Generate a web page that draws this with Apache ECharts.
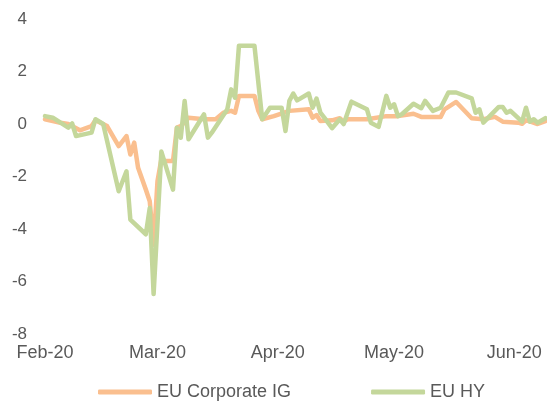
<!DOCTYPE html>
<html>
<head>
<meta charset="utf-8">
<script src="https://cdn.jsdelivr.net/npm/echarts@6/dist/echarts.min.js"></script>
<style>
    html, body { margin: 0; padding: 0; background: #fff; }
    #chart { width: 547px; height: 401px; }
</style>
</head>
<body>
<div id="chart"></div>
<script>
    // EU Corporate IG (orange)
    const igDates = ['2020-02-01', '2020-02-05', '2020-02-07', '2020-02-10', '2020-02-13', '2020-02-14', '2020-02-17',
        '2020-02-20', '2020-02-22', '2020-02-23', '2020-02-24', '2020-02-25', '2020-02-27', '2020-02-28', '2020-02-29',
        '2020-03-01', '2020-03-02', '2020-03-03', '2020-03-05', '2020-03-06', '2020-03-07', '2020-03-09', '2020-03-13',
        '2020-03-16', '2020-03-18', '2020-03-20', '2020-03-21', '2020-03-22', '2020-03-26', '2020-03-27', '2020-03-28',
        '2020-03-31', '2020-04-04', '2020-04-09', '2020-04-10', '2020-04-11', '2020-04-12', '2020-04-15', '2020-04-17',
        '2020-04-18', '2020-04-19', '2020-04-24', '2020-04-29', '2020-05-02', '2020-05-06', '2020-05-08', '2020-05-13',
        '2020-05-14', '2020-05-17', '2020-05-21', '2020-05-24', '2020-05-27', '2020-05-29', '2020-06-02', '2020-06-03',
        '2020-06-04', '2020-06-05', '2020-06-07', '2020-06-09'];
    const igValues = [0.18, 0.05, 0.0, -0.24, -0.08, 0.14, -0.08,
        -0.84, -0.46, -1.16, -0.71, -1.67, -2.5, -2.94, -4.6,
        -2.18, -1.34, -1.41, -1.41, -0.14, -0.08, 0.24, 0.18,
        0.18, 0.43, 0.5, 0.43, 1.07, 1.07, 0.5, 0.18,
        0.3, 0.5, 0.56, 0.24, 0.34, 0.11, 0.14, 0.22,
        0.09, 0.18, 0.18, 0.3, 0.3, 0.39, 0.27, 0.27,
        0.56, 0.84, 0.22, 0.18, 0.27, 0.09, 0.05, 0.01,
        0.14, 0.1, 0.0, 0.11];

    // EU HY (green)
    const hyDates = ['2020-02-01', '2020-02-03', '2020-02-07', '2020-02-08', '2020-02-09', '2020-02-13', '2020-02-14',
        '2020-02-16', '2020-02-20', '2020-02-22', '2020-02-23', '2020-02-27', '2020-02-28', '2020-02-29', '2020-03-02',
        '2020-03-05', '2020-03-06', '2020-03-07', '2020-03-08', '2020-03-09', '2020-03-13', '2020-03-14', '2020-03-15',
        '2020-03-19', '2020-03-20', '2020-03-21', '2020-03-22', '2020-03-26', '2020-03-28', '2020-03-30', '2020-04-02',
        '2020-04-03', '2020-04-04', '2020-04-05', '2020-04-06', '2020-04-09', '2020-04-10', '2020-04-11', '2020-04-12',
        '2020-04-13', '2020-04-15', '2020-04-17', '2020-04-18', '2020-04-20', '2020-04-24', '2020-04-25', '2020-04-27',
        '2020-04-29', '2020-04-30', '2020-05-01', '2020-05-02', '2020-05-03', '2020-05-06', '2020-05-08', '2020-05-09',
        '2020-05-11', '2020-05-13', '2020-05-15', '2020-05-17', '2020-05-21', '2020-05-22', '2020-05-23', '2020-05-24',
        '2020-05-28', '2020-05-29', '2020-05-30', '2020-05-31', '2020-06-03', '2020-06-04', '2020-06-05', '2020-06-06',
        '2020-06-07', '2020-06-09'];
    const hyValues = [0.3, 0.24, -0.14, 0.02, -0.46, -0.33, 0.18,
        0.0, -2.56, -1.8, -3.64, -4.2, -3.2, -6.48, -1.05,
        -2.5, -0.14, -0.52, 0.88, -0.58, 0.37, -0.52, -0.33,
        0.56, 1.32, 1.0, 2.98, 2.98, 0.18, 0.62, 0.62,
        -0.27, 0.88, 1.16, 0.9, 1.16, 0.62, 0.97, 0.43,
        0.24, -0.16, 0.18, 0.0, 0.85, 0.56, 0.05, -0.11,
        1.07, 0.62, 0.75, 0.3, 0.37, 0.77, 0.6, 0.88,
        0.5, 0.62, 1.2, 1.2, 0.98, 0.43, 0.56, 0.05,
        0.65, 0.65, 0.43, 0.5, 0.09, 0.62, 0.09, 0.18,
        0.05, 0.22];

    const monthNames = ['Jan', 'Feb', 'Mar', 'Apr', 'May', 'Jun', 'Jul', 'Aug', 'Sep', 'Oct', 'Nov', 'Dec'];
    const font = "'Liberation Sans', Arial, sans-serif";

    const myChart = echarts.init(document.getElementById('chart'));
    myChart.setOption({
        animation: false,
        color: ['#FABF8F', '#C4D79B'],
        grid: {
            left: 45,
            right: 0,
            top: 19,
            bottom: 67
        },
        legend: {
            left: 98,
            top: 383,
            padding: 0,
            itemWidth: 54,
            itemHeight: 5,
            itemGap: 80,
            icon: 'roundRect',
            textStyle: { color: '#595959', fontSize: 18, fontFamily: font },
            data: ['EU Corporate IG', 'EU HY']
        },
        xAxis: {
            type: 'time',
            min: '2020-02-01',
            max: '2020-06-09 10:00',
            splitNumber: 5,
            axisLine: { show: false },
            axisTick: { show: false },
            splitLine: { show: false },
            axisLabel: {
                color: '#595959',
                fontSize: 18,
                fontFamily: font,
                margin: 10,
                showMinLabel: true,
                showMaxLabel: false,
                formatter: function (val) {
                    const d = new Date(val);
                    return monthNames[d.getMonth()] + '-20';
                }
            }
        },
        yAxis: {
            type: 'value',
            min: -8,
            max: 4,
            interval: 2,
            axisLine: { show: false },
            axisTick: { show: false },
            splitLine: { show: false },
            axisLabel: {
                color: '#595959',
                fontSize: 17,
                fontFamily: font,
                margin: 18
            }
        },
        series: [
            {
                name: 'EU Corporate IG',
                type: 'line',
                symbol: 'none',
                lineStyle: { width: 4.5, cap: 'round', join: 'round' },
                data: igDates.map((d, i) => [d, igValues[i]])
            },
            {
                name: 'EU HY',
                type: 'line',
                symbol: 'none',
                lineStyle: { width: 4.5, cap: 'round', join: 'round' },
                data: hyDates.map((d, i) => [d, hyValues[i]])
            }
        ]
    });
</script>
</body>
</html>
